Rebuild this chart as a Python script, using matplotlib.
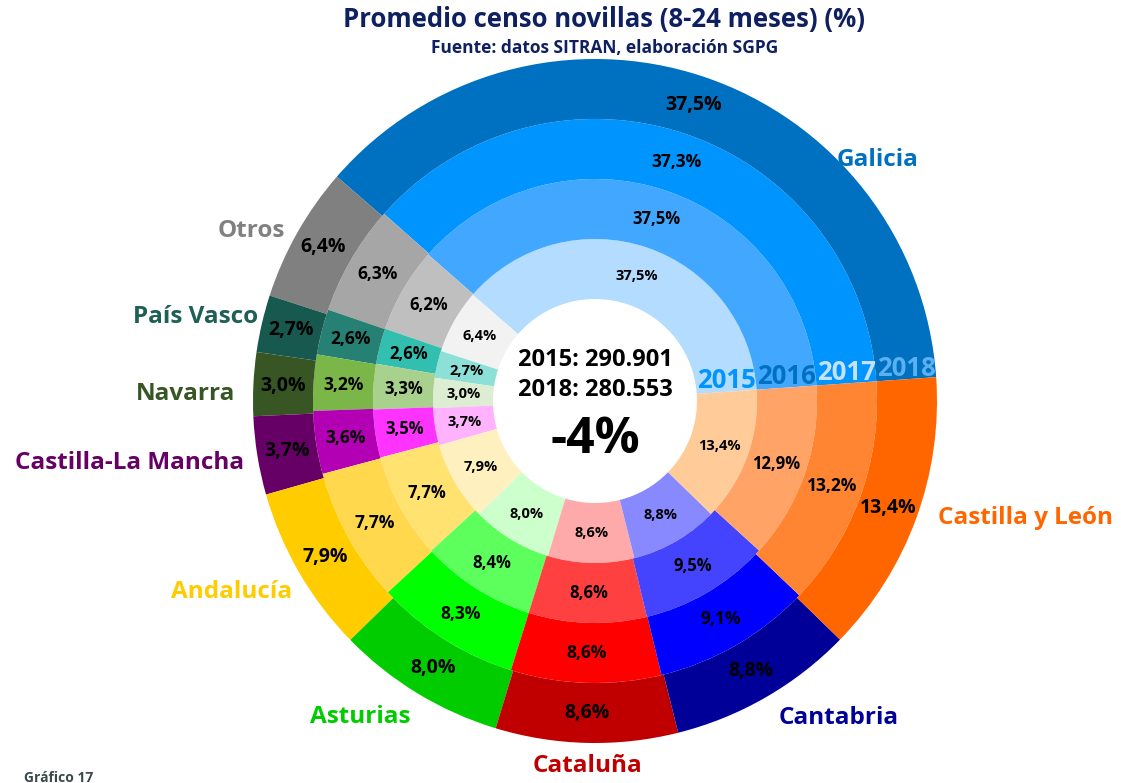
import numpy as np
import matplotlib
matplotlib.use("Agg")
import matplotlib.pyplot as plt

plt.rcParams['font.family'] = ['Open Sans', 'DejaVu Sans']
plt.rcParams['font.weight'] = 'bold'

regiones = ['Galicia', 'Otros', 'País Vasco', 'Navarra', 'Castilla-La Mancha',
            'Andalucía', 'Asturias', 'Cataluña', 'Cantabria', 'Castilla y León']
anios = ['2015', '2016', '2017', '2018']
p2015 = [37.5, 6.4, 2.7, 3.0, 3.7, 7.9, 8.0, 8.6, 8.8, 13.4]
p2016 = [37.5, 6.2, 2.6, 3.3, 3.5, 7.7, 8.4, 8.6, 9.5, 12.9]
p2017 = [37.3, 6.3, 2.6, 3.2, 3.6, 7.7, 8.3, 8.6, 9.1, 13.2]
p2018 = [37.5, 6.4, 2.7, 3.0, 3.7, 7.9, 8.0, 8.6, 8.8, 13.4]
censo_2015 = 290901
censo_2018 = 280553

# colours per ring, inner (2015) -> outer (2018)
col2015 = ['#B3DCFF', '#F2F2F2', '#8CE0D8', '#DCEDD2', '#FFB3FF',
           '#FFF0C0', '#CCFFCC', '#FFAAAA', '#8888FF', '#FFCC99']
col2016 = ['#42A8FF', '#BFBFBF', '#33BFB0', '#A9D18E', '#FF33FF',
           '#FFE270', '#5CFF5C', '#FF4040', '#4444FF', '#FFA366']
col2017 = ['#0094FF', '#A6A6A6', '#268074', '#7AB648', '#B400B4',
           '#FFD84D', '#00FF00', '#FF0000', '#0000FF', '#FF8533']
col2018 = ['#0070C0', '#808080', '#17594F', '#375623', '#660066',
           '#FFCC00', '#00CC00', '#C00000', '#000099', '#FF6600']
col_texto = ['#0070C0', '#808080', '#1F5F55', '#375623', '#660066',
             '#FFCC00', '#00CC00', '#C00000', '#000099', '#FF6600']
col_anio = ['#0094FF', '#0070C0', '#C4E2FF', '#5AB0F0']

W, H = 1121, 783
fig = plt.figure(figsize=(W / 100, H / 100), dpi=100)
ax = fig.add_axes([0, 0, 1, 1])

cx, cy = 595, H - 401
hole = 102
ancho = 60
start = 4

series = [p2015, p2016, p2017, p2018]
colores = [col2015, col2016, col2017, col2018]
tamanos = [10.5, 12, 12.5, 14]

for i, (vals, cols) in enumerate(zip(series, colores)):
    r_out = hole + ancho * (i + 1)
    ax.pie(vals, radius=r_out, center=(cx, cy), startangle=start,
           counterclock=True, colors=cols,
           wedgeprops=dict(width=ancho, edgecolor='none', linewidth=0))
    frac = np.array(vals) / np.sum(vals)
    cum = np.concatenate([[0], np.cumsum(frac)])
    r_mid = r_out - ancho / 2
    for j, v in enumerate(vals):
        ang = np.deg2rad(start + 360 * (cum[j] + cum[j + 1]) / 2)
        ax.text(cx + r_mid * np.cos(ang), cy + r_mid * np.sin(ang),
                f"{v:.1f}%".replace('.', ','), ha='center', va='center',
                fontsize=tamanos[i], fontweight='bold', color='black')

# year labels along the Galicia / Castilla y León boundary
for i, a in enumerate(anios):
    r_mid = hole + ancho * i + ancho / 2
    ang = np.deg2rad(start)
    ax.text(cx + r_mid * np.cos(ang), cy + r_mid * np.sin(ang) + 11, a,
            ha='center', va='center', fontsize=18.5, fontweight='bold',
            color=col_anio[i])

# region names
pos_reg = [(878, 160), (251, 231), (196, 317), (186, 394), (130, 463),
           (232, 592), (360, 717), (588, 766), (839, 718), (1025, 518)]
for nom, (x, y), c in zip(regiones, pos_reg, col_texto):
    ax.text(x, H - y, nom, ha='center', va='center', fontsize=17.5,
            fontweight='bold', color=c)

# centre
fmt = lambda n: f"{n:,}".replace(',', '.')
ax.text(cx, H - 360, f"2015: {fmt(censo_2015)}", ha='center', va='center',
        fontsize=17, fontweight='bold', color='black')
ax.text(cx, H - 390, f"2018: {fmt(censo_2018)}", ha='center', va='center',
        fontsize=17, fontweight='bold', color='black')
var = round((censo_2018 / censo_2015 - 1) * 100)
ax.text(cx, H - 440, f"{var}%", ha='center', va='center',
        fontsize=36, fontweight='bold', color='black')

ax.text(604, H - 19, "Promedio censo novillas (8-24 meses) (%)", ha='center',
        va='center', fontsize=18.5, fontweight='bold', color='#0F2060')
ax.text(605, H - 48, "Fuente: datos SITRAN, elaboración SGPG", ha='center',
        va='center', fontsize=12.5, fontweight='bold', color='#0F2060')
ax.text(24, H - 771, "Gráfico 17", ha='left', va='top', fontsize=10,
        fontweight='bold', color='#3A4A4A')

ax.set_xlim(0, W)
ax.set_ylim(0, H)
ax.set_aspect('equal')
ax.axis('off')

fig.savefig('out.png', dpi=100, facecolor='white')
